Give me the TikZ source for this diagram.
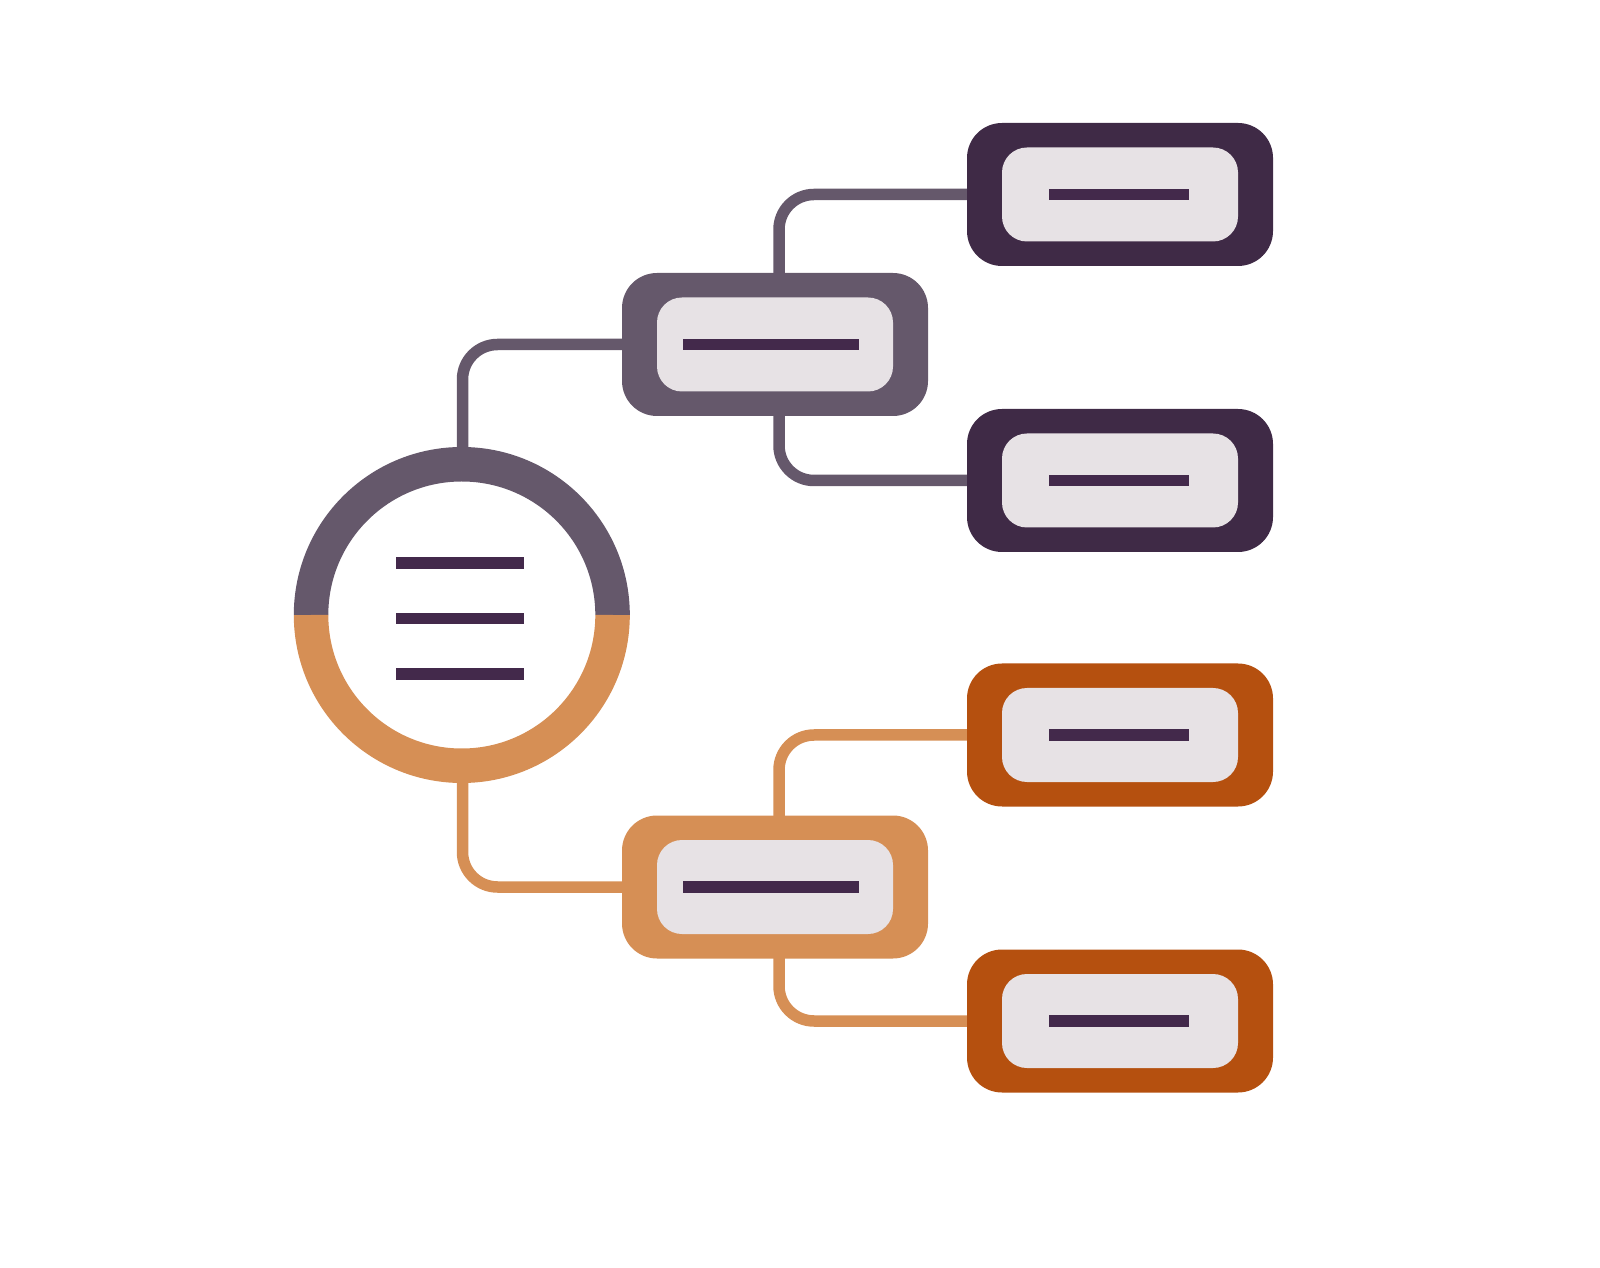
\documentclass[tikz,border=0pt]{standalone}
\usetikzlibrary{backgrounds}
\definecolor{midplum}{HTML}{65586B}
\definecolor{darkplum}{HTML}{3F2A46}
\definecolor{sand}{HTML}{D68F55}
\definecolor{rust}{HTML}{B5500F}
\definecolor{paleplum}{HTML}{E7E2E5}
\definecolor{barplum}{HTML}{43294B}
\begin{document}
\begin{tikzpicture}[
  outerbox/.style={rectangle, rounded corners=0.35cm, minimum width=3.06cm, minimum height=1.43cm, inner sep=0pt},
  innerbox/.style={rectangle, rounded corners=0.25cm, fill=paleplum, minimum width=2.36cm, minimum height=0.94cm, inner sep=0pt},
  bar/.style={rectangle, fill=barplum, minimum height=0.115cm, inner sep=0pt},
  link/.style={line width=0.115cm, rounded corners=0.35cm, shorten <=-0.1cm, shorten >=-0.1cm}
]
\useasboundingbox (0,0) rectangle (16,12.67);

% hub
\node[circle, minimum size=3.36cm, inner sep=0pt] (hub) at (4.625,6.52) {};
\draw[line width=0.345cm, midplum] ([xshift=0.1725cm]hub.west) arc[start angle=180, end angle=0, radius=1.5075cm];
\draw[line width=0.345cm, sand] ([xshift=0.1725cm]hub.west) arc[start angle=180, end angle=360, radius=1.5075cm];
\node[bar, minimum width=1.28cm] (hb1) at (4.60,7.04) {};
\node[bar, minimum width=1.28cm] (hb2) at (4.60,6.485) {};
\node[bar, minimum width=1.28cm] (hb3) at (4.60,5.93) {};

% middle boxes
\node[outerbox, fill=midplum] (m1) at (7.75,9.225) {};
\node[innerbox] (m1in) at (m1) {};
\node[bar, minimum width=1.76cm] (m1bar) at (7.71,9.225) {};

\node[outerbox, fill=sand] (m2) at (7.75,3.80) {};
\node[innerbox] (m2in) at (m2) {};
\node[bar, minimum width=1.76cm] (m2bar) at (7.71,3.80) {};

% right boxes
\foreach \name/\y/\col in {r1/10.725/darkplum, r2/7.865/darkplum, r3/5.32/rust, r4/2.46/rust}
{
  \node[outerbox, fill=\col] (\name) at (11.20,\y) {};
  \node[innerbox] (\name in) at (\name) {};
  \node[bar, minimum width=1.40cm] (\name bar) at (11.19,\y) {};
}

% links
\begin{scope}[on background layer]
\draw[link, midplum] (hub.north) |- (m1.west);
\draw[link, midplum] ([xshift=0.04cm]m1.north) |- (r1.west);
\draw[link, midplum] ([xshift=0.04cm]m1.south) |- (r2.west);

\draw[link, sand] (hub.south) |- (m2.west);
\draw[link, sand] ([xshift=0.04cm]m2.north) |- (r3.west);
\draw[link, sand] ([xshift=0.04cm]m2.south) |- (r4.west);
\end{scope}
\end{tikzpicture}
\end{document}
